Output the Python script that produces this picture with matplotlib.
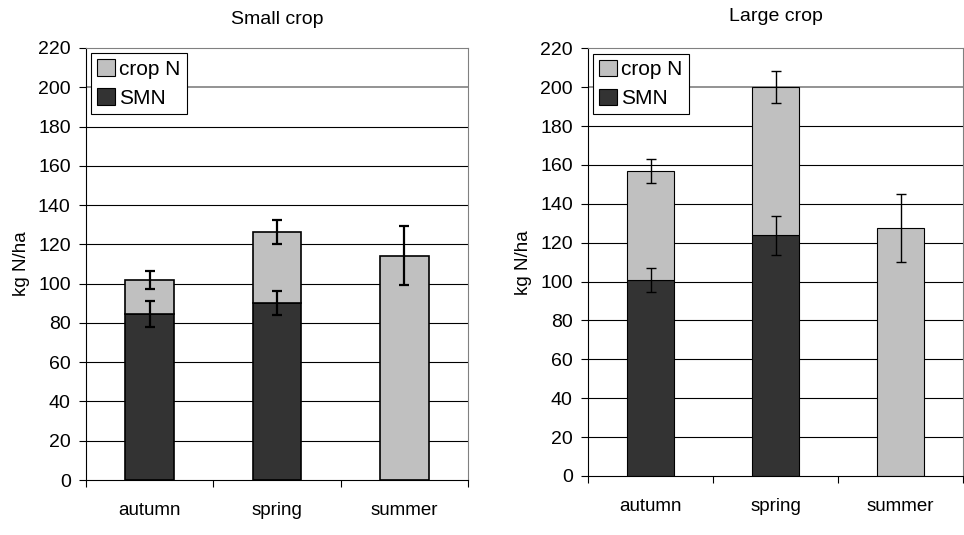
import matplotlib
matplotlib.use("Agg")
import matplotlib.pyplot as plt
from matplotlib.patches import Patch

plt.rcParams["font.family"] = ["Liberation Sans", "DejaVu Sans"]

seasons = ["autumn", "spring", "summer"]

# small crop
small_smn = [84.4, 89.9, 0]
small_smn_err = [6.7, 6.1, 0]
small_total = [101.9, 126.2, 114.2]
small_total_err = [4.6, 6.2, 15.1]

# large crop
large_smn = [100.7, 123.8, 0]
large_smn_err = [6.3, 9.9, 0]
large_total = [156.9, 200.1, 127.7]
large_total_err = [6.0, 8.4, 17.6]

dark = "#333333"
light = "#c0c0c0"

fig = plt.figure(figsize=(9.64, 5.35), dpi=100)
ax1 = fig.add_axes([0.0892, 0.1028, 0.3963, 0.8075])
ax2 = fig.add_axes([0.610, 0.1103, 0.389, 0.7994])


def draw(ax, smn, smn_err, total, total_err, title, lw, elw, tpad, xpad):
    x = list(range(len(seasons)))
    crop = [t - s for t, s in zip(total, smn)]
    ax.set_axisbelow(True)
    for v in range(20, 220, 20):
        ax.axhline(v, color="black" if v != 200 else "#808080", lw=0.8 if v != 200 else 1.2, zorder=0)
    ax.bar(x, smn, width=0.38, color=dark, edgecolor="black", linewidth=lw, zorder=2)
    ax.bar(x, crop, bottom=smn, width=0.38, color=light, edgecolor="black", linewidth=lw, zorder=2)
    for i in x:
        if smn_err[i] > 0:
            ax.errorbar(i, smn[i], yerr=smn_err[i], color="black", elinewidth=elw,
                        capsize=3.6, capthick=elw, zorder=3)
        ax.errorbar(i, total[i], yerr=total_err[i], color="black", elinewidth=elw,
                    capsize=3.6, capthick=elw, zorder=3)
    ax.set_xlim(-0.5, 2.5)
    ax.set_ylim(0, 220)
    ax.set_yticks(range(0, 221, 20))
    ax.tick_params(axis="y", labelsize=14, length=5, width=0.8, direction="out", pad=6)
    ax.set_xticks(x)
    ax.set_xticklabels(seasons, fontsize=13.5)
    ax.tick_params(axis="x", length=0, pad=xpad)
    ax.set_xticks([-0.5, 0.5, 1.5, 2.5], minor=True)
    ax.tick_params(axis="x", which="minor", length=5, width=0.8, direction="out")
    ax.spines["top"].set_color("#808080")
    ax.spines["right"].set_color("#808080")
    ax.spines["left"].set_color("black")
    ax.spines["bottom"].set_color("black")
    ax.set_ylabel("kg N/ha", fontsize=13.5, labelpad=6)
    ax.set_title(title, fontsize=14, pad=tpad)
    handles = [Patch(facecolor=light, edgecolor="black", lw=0.8, label="crop N"),
               Patch(facecolor=dark, edgecolor="black", lw=0.8, label="SMN")]
    leg = ax.legend(handles=handles, loc="upper left", fontsize=15, frameon=True,
                    fancybox=False, edgecolor="black", framealpha=1,
                    handlelength=0.85, handleheight=0.85, handletextpad=0.2,
                    borderpad=0.3, labelspacing=0.45, borderaxespad=0.25)
    leg.get_frame().set_linewidth(0.8)


draw(ax1, small_smn, small_smn_err, small_total, small_total_err, "Small crop", 1.2, 1.6, 17.5, 16)
draw(ax2, large_smn, large_smn_err, large_total, large_total_err, "Large crop", 0.8, 1.0, 19.5, 16)

fig.savefig("out.png", dpi=100)
